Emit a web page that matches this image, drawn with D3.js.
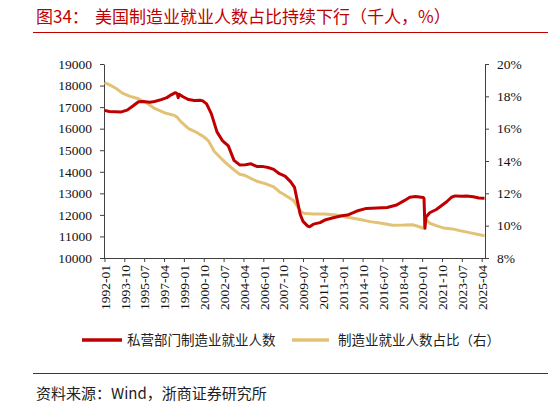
<!DOCTYPE html>
<html>
<head>
<meta charset="utf-8">
<script src="https://cdn.jsdelivr.net/npm/d3@7/dist/d3.min.js"></script>
<style>
  html, body { margin: 0; padding: 0; background: #fff; }
  svg { display: block; }
  .tick text { font-family: "Liberation Serif", "Times New Roman", serif !important; }
</style>
</head>
<body>
<svg id="chart" width="548" height="402"></svg>
<script>
// ---- data ----
const xTickLabels = ["1992-01","1993-10","1995-07","1997-04","1999-01","2000-10","2002-07","2004-04","2006-01","2007-10","2009-07","2011-04","2013-01","2014-10","2016-07","2018-04","2020-01","2021-10","2023-07","2025-04"];
const leftTicks = [10000,11000,12000,13000,14000,15000,16000,17000,18000,19000];
const rightTicks = [8,10,12,14,16,18,20];

const empDates = ["1992-01","1992-06","1993-01","1993-06","1994-01","1994-06","1995-01","1995-06","1996-01","1996-06","1997-01","1997-07","1997-12","1998-04","1998-06","1998-07","1998-08","1998-12","1999-06","1999-12","2000-06","2000-09","2001-01","2001-06","2001-12","2002-06","2002-12","2003-06","2003-12","2004-06","2004-12","2005-06","2006-01","2006-06","2006-12","2007-06","2007-12","2008-06","2008-10","2009-01","2009-04","2009-07","2009-12","2010-02","2010-06","2011-01","2011-06","2012-03","2012-12","2013-06","2014-04","2015-02","2016-01","2016-12","2017-10","2018-06","2018-12","2019-06","2020-02","2020-03","2020-04","2020-05","2020-09","2021-04","2021-10","2022-03","2022-08","2022-12","2023-07","2023-12","2024-07","2025-01","2025-07"];
const empValues = [16850,16800,16780,16770,16860,17020,17250,17260,17230,17260,17350,17440,17580,17670,17620,17440,17600,17480,17350,17310,17320,17290,17150,16700,15850,15430,15200,14530,14320,14330,14370,14250,14240,14200,14110,13910,13800,13530,13280,12650,12030,11700,11480,11450,11570,11640,11760,11870,11960,11990,12180,12300,12320,12340,12460,12660,12820,12850,12810,12770,11380,11890,12100,12250,12450,12610,12820,12880,12870,12880,12840,12780,12770];

const shareDates = ["1992-01","1992-06","1993-01","1993-08","1994-04","1995-01","1995-10","1996-06","1997-06","1998-03","1998-06","1998-10","1999-06","2000-03","2000-10","2001-03","2001-09","2002-03","2002-09","2003-06","2003-12","2004-06","2004-11","2005-06","2006-03","2006-12","2007-06","2008-01","2008-09","2009-01","2009-05","2009-09","2010-06","2011-06","2012-06","2013-06","2014-06","2015-06","2016-06","2017-06","2018-06","2019-03","2019-09","2020-02","2020-03","2020-04","2020-05","2020-09","2021-04","2021-12","2022-09","2023-06","2024-03","2024-10","2025-07"];
const shareValues = [18.85,18.72,18.5,18.2,18.0,17.85,17.57,17.25,16.95,16.82,16.7,16.42,16.0,15.75,15.5,15.25,14.6,14.25,13.9,13.45,13.18,13.1,12.95,12.75,12.6,12.4,12.1,11.85,11.55,11.2,10.85,10.75,10.72,10.72,10.66,10.52,10.4,10.25,10.15,10.03,10.04,10.06,9.95,9.84,9.84,10.56,10.4,10.15,10.0,9.85,9.8,9.68,9.57,9.48,9.38];

const seriesNames = ["私营部门制造业就业人数", "制造业就业人数占比（右）"];
const titleLabel = "图34：";
const titleText = "美国制造业就业人数占比持续下行（千人，%）";
const sourceText = "资料来源：Wind，浙商证券研究所";

// ---- helpers ----
const monthIndex = s => { const [y, m] = s.split("-").map(Number); return (y - 1992) * 12 + (m - 1); };
const nMonths = monthIndex("2025-07") + 1;

const svg = d3.select("#chart");
const red = "#c00000", gold = "#e2c275", axisColor = "#404040";
const serif = "'Liberation Serif','Times New Roman',serif";
const cjk = "'Noto Sans CJK SC','Noto Sans',sans-serif";

const L = 104, R = 485, T = 64, B = 258;
const x = d3.scaleLinear().domain([-0.5, nMonths - 0.5]).range([L, R]);
const yL = d3.scaleLinear().domain([10000, 19000]).range([B, T]);
const yR = d3.scaleLinear().domain([8, 20]).range([B, T]);

// title & rules
svg.append("text").attr("x", 36).attr("y", 23).attr("fill", red)
  .style("font-family", cjk).style("font-size", "17px").text(titleLabel);
svg.append("text").attr("x", 95).attr("y", 23).attr("fill", red)
  .style("font-family", cjk).style("font-size", "17px").text(titleText);
svg.append("line").attr("x1", 33).attr("x2", 548).attr("y1", 32.5).attr("y2", 32.5)
  .attr("stroke", red).attr("stroke-width", 1);
svg.append("line").attr("x1", 33).attr("x2", 548).attr("y1", 373.5).attr("y2", 373.5)
  .attr("stroke", red).attr("stroke-width", 1);
svg.append("text").attr("x", 36).attr("y", 399).attr("fill", "#222")
  .style("font-family", cjk).style("font-size", "15px").text(sourceText);

// axes
const styleAxis = g => {
  g.attr("font-family", serif).attr("font-size", 13.5);
  g.selectAll("path, line").attr("stroke", axisColor).attr("stroke-width", 1);
  g.selectAll("text").attr("fill", "#111").attr("font-family", serif).style("font-size", "13.5px");
};
svg.append("g").attr("transform", `translate(${L},0)`)
  .call(d3.axisLeft(yL).tickValues(leftTicks).tickSize(4).tickPadding(8).tickSizeOuter(0).tickFormat(d3.format("d")))
  .call(styleAxis);
svg.append("g").attr("transform", `translate(${R},0)`)
  .call(d3.axisRight(yR).tickValues(rightTicks).tickSize(4).tickPadding(8).tickSizeOuter(0).tickFormat(d => d + "%"))
  .call(styleAxis);
const xAxis = svg.append("g").attr("transform", `translate(0,${B})`)
  .call(d3.axisBottom(x).tickValues(xTickLabels.map(monthIndex)).tickSize(4).tickSizeOuter(0)
    .tickFormat((d, i) => xTickLabels[i]))
  .call(styleAxis);
xAxis.select(".domain").attr("d", `M${L},0.5H${R}`);
xAxis.selectAll("text")
  .attr("transform", "rotate(-90)")
  .attr("text-anchor", "end")
  .attr("x", -7).attr("y", 0).attr("dy", "0.35em");

// lines
const empData = empDates.map((d, i) => [monthIndex(d), empValues[i]]);
const shareData = shareDates.map((d, i) => [monthIndex(d), shareValues[i]]);
svg.append("path").datum(shareData)
  .attr("fill", "none").attr("stroke", gold).attr("stroke-width", 3).attr("stroke-linejoin", "round")
  .attr("d", d3.line().x(d => x(d[0])).y(d => yR(d[1])));
svg.append("path").datum(empData)
  .attr("fill", "none").attr("stroke", red).attr("stroke-width", 3).attr("stroke-linejoin", "round")
  .attr("d", d3.line().x(d => x(d[0])).y(d => yL(d[1])));

// legend
const legend = [
  { name: seriesNames[0], color: red, x1: 82, x2: 122, tx: 127 },
  { name: seriesNames[1], color: gold, x1: 292, x2: 329, tx: 338 }
];
legend.forEach(l => {
  svg.append("line").attr("x1", l.x1).attr("x2", l.x2).attr("y1", 340).attr("y2", 340)
    .attr("stroke", l.color).attr("stroke-width", 3.5);
  svg.append("text").attr("x", l.tx).attr("y", 345).attr("fill", "#222")
    .style("font-family", cjk).style("font-size", "13.5px").text(l.name);
});
</script>
</body>
</html>
